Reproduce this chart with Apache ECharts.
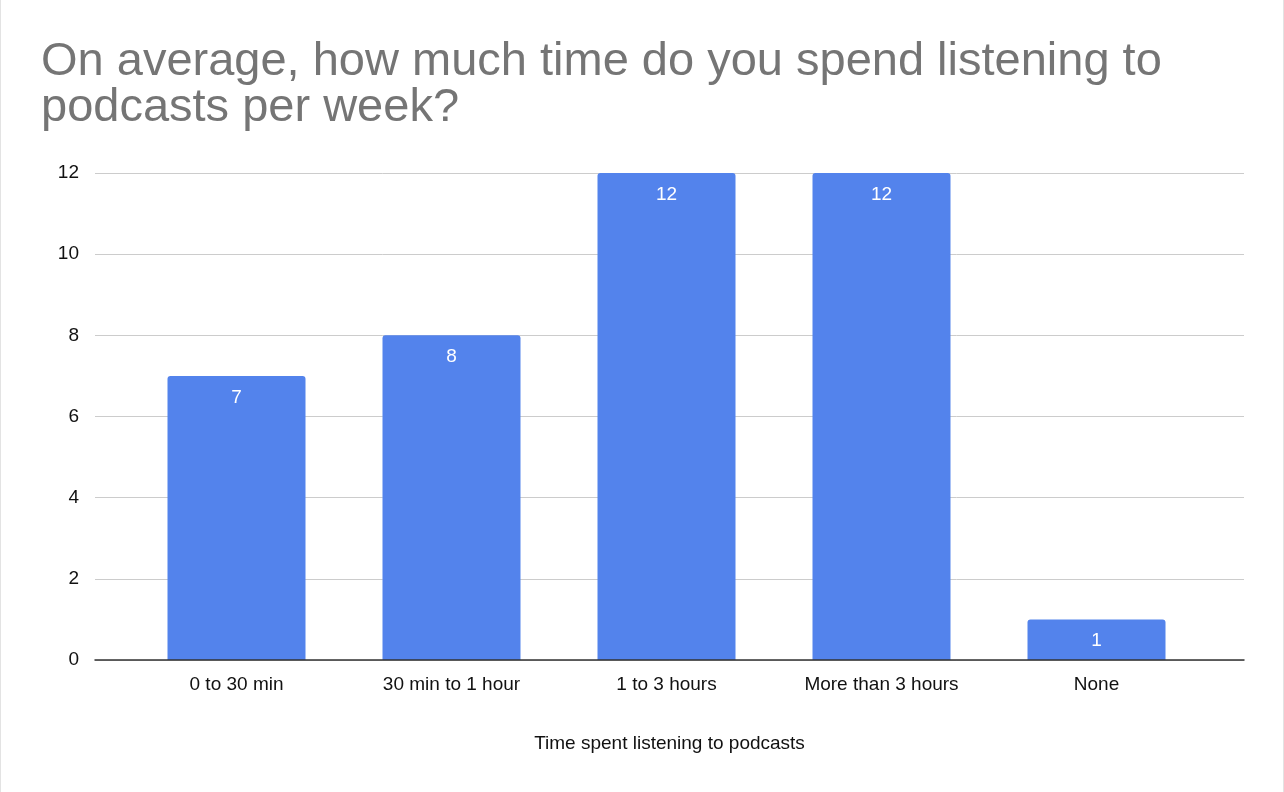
<!DOCTYPE html>
<html>
<head>
<meta charset="utf-8">
<script src="https://cdn.jsdelivr.net/npm/echarts@6/dist/echarts.min.js"></script>
<style>
  html, body { margin: 0; padding: 0; background: #fff; }
  #chart { width: 1284px; height: 792px; box-sizing: border-box; border-left: 1px solid #e3e3e3; border-right: 1px solid #e3e3e3; }
</style>
</head>
<body>
<div id="chart"></div>
<script>
// 数据
let categories = ["0 to 30 min", "30 min to 1 hour", "1 to 3 hours", "More than 3 hours", "None"];
let counts = [7, 8, 12, 12, 1];
let yTicks = { min: 0, max: 12, interval: 2 };

let font = "Liberation Sans, Arial, sans-serif";

let option = {
    animation: false,
    title: {
        text: "On average, how much time do you spend listening to\npodcasts per week?",
        left: 35,
        top: 34,
        textStyle: {
            color: "#757575",
            fontFamily: font,
            fontWeight: "normal",
            fontSize: 47,
            lineHeight: 46
        }
    },
    // 两个坐标系：一个画网格线和坐标轴，一个画柱子
    grid: [
        { left: 94, right: 39, top: 173, bottom: 132 },
        { left: 128, right: 79, top: 173, bottom: 132 }
    ],
    xAxis: [
        {
            type: "category",
            gridIndex: 0,
            data: [""],
            axisTick: { show: false },
            axisLabel: { show: false },
            axisLine: { show: true, lineStyle: { color: "#333333", width: 1.5 } },
            name: "Time spent listening to podcasts",
            nameLocation: "middle",
            nameGap: 74,
            nameTextStyle: { color: "#111111", fontFamily: font, fontSize: 19 },
            z: 5
        },
        {
            type: "category",
            gridIndex: 1,
            data: categories,
            axisTick: { show: false },
            axisLine: { show: false },
            axisLabel: { color: "#111111", fontFamily: font, fontSize: 19, margin: 15 }
        }
    ],
    yAxis: [
        {
            type: "value",
            gridIndex: 0,
            min: yTicks.min,
            max: yTicks.max,
            interval: yTicks.interval,
            axisLine: { show: false },
            axisTick: { show: false },
            axisLabel: { color: "#111111", fontFamily: font, fontSize: 19, margin: 16 },
            splitLine: { lineStyle: { color: "#cccccc", width: 1 } }
        },
        {
            type: "value",
            gridIndex: 1,
            min: yTicks.min,
            max: yTicks.max,
            interval: yTicks.interval,
            show: false,
            splitLine: { show: false }
        }
    ],
    series: [
        {
            type: "bar",
            xAxisIndex: 1,
            yAxisIndex: 1,
            data: counts,
            barWidth: 138,
            itemStyle: { color: "#5383EC", borderRadius: [3, 3, 0, 0] },
            label: {
                show: true,
                position: "insideTop",
                distance: 12,
                color: "#ffffff",
                fontFamily: font,
                fontSize: 19
            }
        }
    ]
};

let myChart = echarts.init(document.getElementById("chart"));
myChart.setOption(option);

window.addEventListener("resize", function () {
    myChart.resize();
});
</script>
</body>
</html>
